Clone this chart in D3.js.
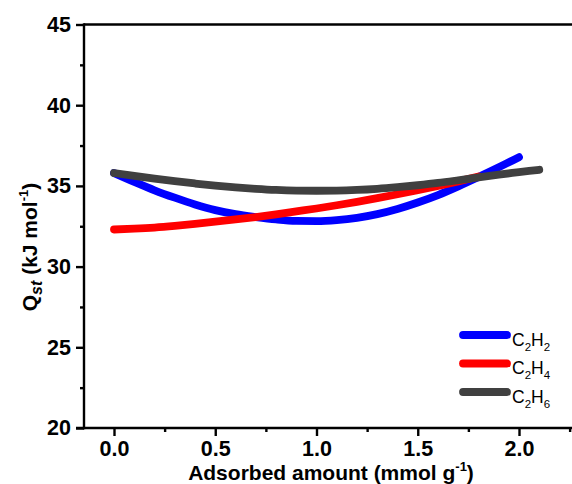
<!DOCTYPE html>
<html>
<head>
<meta charset="utf-8">
<script src="https://cdn.jsdelivr.net/npm/d3@7"></script>
<style>
  html, body { margin: 0; padding: 0; background: #fff; }
  svg { display: block; font-family: Arial, "Liberation Sans", sans-serif; }
</style>
</head>
<body>
<svg id="chart" width="572" height="484"></svg>
<script>
// Isosteric heat of adsorption versus loading
const loadingC2H2 = [0.0, 0.1, 0.2, 0.3, 0.4, 0.5, 0.6, 0.7, 0.8, 0.9, 1.0, 1.1, 1.2, 1.3, 1.4, 1.5, 1.6, 1.7, 1.8, 1.9, 2.0];
const qstC2H2 = [35.80, 35.25, 34.73, 34.27, 33.85, 33.50, 33.25, 33.07, 32.92, 32.83, 32.82, 32.88, 33.02, 33.25, 33.57, 33.97, 34.43, 34.97, 35.55, 36.15, 36.78];

const loadingC2H4 = [0.0, 0.1, 0.2, 0.3, 0.4, 0.5, 0.6, 0.7, 0.8, 0.9, 1.0, 1.1, 1.2, 1.3, 1.4, 1.5, 1.6, 1.7, 1.8];
const qstC2H4 = [32.30, 32.35, 32.42, 32.52, 32.64, 32.78, 32.92, 33.07, 33.24, 33.42, 33.60, 33.80, 34.01, 34.24, 34.48, 34.73, 35.00, 35.28, 35.58];

const loadingC2H6 = [0.0, 0.1, 0.2, 0.3, 0.4, 0.5, 0.6, 0.7, 0.8, 0.9, 1.0, 1.1, 1.2, 1.3, 1.4, 1.5, 1.6, 1.7, 1.8, 1.9, 2.0, 2.1];
const qstC2H6 = [35.80, 35.62, 35.45, 35.29, 35.15, 35.02, 34.91, 34.82, 34.75, 34.71, 34.70, 34.71, 34.75, 34.82, 34.92, 35.04, 35.18, 35.35, 35.53, 35.70, 35.85, 36.00];

const xTicks = [0.0, 0.5, 1.0, 1.5, 2.0];
const xMinorTicks = [0.25, 0.75, 1.25, 1.75, 2.25];
const yTicks = [20, 25, 30, 35, 40, 45];
const yMinorTicks = [22.5, 27.5, 32.5, 37.5, 42.5];

const series = [
  { base: "C", sub1: "2", mid: "H", sub2: "2", x: loadingC2H2, y: qstC2H2, color: "#0000ff" },
  { base: "C", sub1: "2", mid: "H", sub2: "4", x: loadingC2H4, y: qstC2H4, color: "#ff0000" },
  { base: "C", sub1: "2", mid: "H", sub2: "6", x: loadingC2H6, y: qstC2H6, color: "#404040" }
];

const svg = d3.select("#chart");
const W = 572;
const plotLeft = 84, plotTop = 24.5, plotBottom = 428;

const x = d3.scaleLinear().domain([0, 2]).range([114, 519]);
const y = d3.scaleLinear().domain([20, 45]).range([plotBottom, plotTop]);

// Curves
const line = d3.line().x(d => x(d[0])).y(d => y(d[1])).curve(d3.curveMonotoneX);
series.forEach(s => {
  const pts = s.x.map((v, i) => [v, s.y[i]]);
  svg.append("path")
    .attr("d", line(pts))
    .attr("fill", "none")
    .attr("stroke", s.color)
    .attr("stroke-width", 7.8)
    .attr("stroke-linecap", "round")
    .attr("stroke-linejoin", "round");
});

// Frame: left, top and bottom (right side runs past the canvas)
const axisW = 2.4;
svg.append("line").attr("x1", plotLeft).attr("x2", W + 10).attr("y1", plotTop).attr("y2", plotTop)
  .attr("stroke", "#000").attr("stroke-width", axisW);

function styleAxis(g) {
  g.select(".domain").remove();
  g.selectAll(".tick line").attr("stroke", "#000").attr("stroke-width", axisW);
}

// Y axis
const yAxis = svg.append("g").attr("transform", `translate(${plotLeft},0)`)
  .call(d3.axisLeft(y).tickValues(yTicks).tickSize(8).tickPadding(5).tickFormat(d3.format("d")));
styleAxis(yAxis);
yAxis.selectAll(".tick text").attr("font-size", 21.5).attr("font-weight", "bold").attr("fill", "#000")
  .attr("font-family", "Arial, 'Liberation Sans', sans-serif");
const yMinor = svg.append("g").attr("transform", `translate(${plotLeft},0)`)
  .call(d3.axisLeft(y).tickValues(yMinorTicks).tickSize(4).tickFormat(""));
styleAxis(yMinor);
svg.append("line").attr("x1", plotLeft).attr("x2", plotLeft).attr("y1", plotTop - axisW / 2).attr("y2", plotBottom + axisW / 2)
  .attr("stroke", "#000").attr("stroke-width", axisW);

// X axis
const xAxis = svg.append("g").attr("transform", `translate(0,${plotBottom})`)
  .call(d3.axisBottom(x).tickValues(xTicks).tickSize(8).tickPadding(5).tickFormat(d3.format(".1f")));
styleAxis(xAxis);
xAxis.selectAll(".tick text").attr("font-size", 21.5).attr("font-weight", "bold").attr("fill", "#000")
  .attr("font-family", "Arial, 'Liberation Sans', sans-serif");
const xMinor = svg.append("g").attr("transform", `translate(0,${plotBottom})`)
  .call(d3.axisBottom(x).tickValues(xMinorTicks).tickSize(4).tickFormat(""));
styleAxis(xMinor);
svg.append("line").attr("x1", plotLeft - 8).attr("x2", W + 10).attr("y1", plotBottom).attr("y2", plotBottom)
  .attr("stroke", "#000").attr("stroke-width", axisW);

// Axis titles
const xt = svg.append("text").attr("x", 331).attr("y", 480).attr("text-anchor", "middle")
  .attr("font-size", 21).attr("font-weight", "bold").attr("fill", "#000");
xt.append("tspan").text("Adsorbed amount (mmol g");
xt.append("tspan").attr("dy", -9).attr("font-size", 13).text("-1");
xt.append("tspan").attr("dy", 9).text(")");

const yt = svg.append("text").attr("transform", "translate(37,247) rotate(-90)").attr("text-anchor", "middle")
  .attr("font-size", 21).attr("font-weight", "bold").attr("fill", "#000");
yt.append("tspan").text("Q");
yt.append("tspan").attr("dy", 5).attr("font-size", 16).attr("font-style", "italic").text("st");
yt.append("tspan").attr("dy", -5).text(" (kJ mol");
yt.append("tspan").attr("dy", -9).attr("font-size", 13).text("-1");
yt.append("tspan").attr("dy", 9).text(")");

// Legend
const legY = [335, 363.5, 392];
series.forEach((s, i) => {
  const g = svg.append("g");
  g.append("line").attr("x1", 463).attr("x2", 507).attr("y1", legY[i]).attr("y2", legY[i])
    .attr("stroke", s.color).attr("stroke-width", 7.8).attr("stroke-linecap", "round");
  const t = g.append("text").attr("x", 512).attr("y", legY[i] + 10.5).attr("font-size", 17.5).attr("fill", "#000");
  t.append("tspan").text(s.base);
  t.append("tspan").attr("dy", 5).attr("font-size", 11.5).text(s.sub1);
  t.append("tspan").attr("dy", -5).text(s.mid);
  t.append("tspan").attr("dy", 5).attr("font-size", 11.5).text(s.sub2);
});
</script>
</body>
</html>
